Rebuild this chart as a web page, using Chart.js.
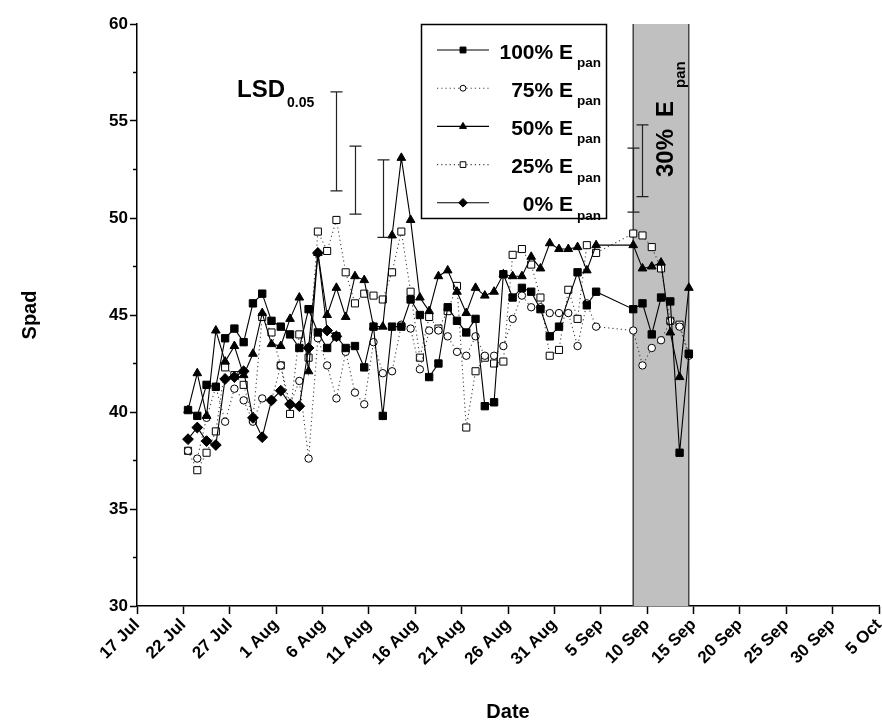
<!DOCTYPE html>
<html><head><meta charset="utf-8">
<script src="https://cdn.jsdelivr.net/npm/chart.js@4/dist/chart.umd.min.js"></script>
<style>html,body{margin:0;padding:0;background:#fff}#wrap{position:relative;width:882px;height:727px}</style>
</head><body><div id="wrap"><canvas id="c" width="882" height="727"></canvas></div>
<script>
// ---- data ----
const axisStart = '07-17';
const tickDates = ['07-17','07-22','07-27','08-01','08-06','08-11','08-16','08-21','08-26','08-31','09-05','09-10','09-15','09-20','09-25','09-30','10-05'];
const tickLabels = ['17 Jul','22 Jul','27 Jul','1 Aug','6 Aug','11 Aug','16 Aug','21 Aug','26 Aug','31 Aug','5 Sep','10 Sep','15 Sep','20 Sep','25 Sep','30 Sep','5 Oct'];
const yTicks = [30,35,40,45,50,55,60];
const dates = ['07-22','07-23','07-24','07-25','07-26','07-27','07-28','07-29','07-30','07-31',
 '08-01','08-02','08-03','08-04','08-05','08-06','08-07','08-08','08-09','08-10',
 '08-11','08-12','08-13','08-14','08-15','08-16','08-17','08-18','08-19','08-20',
 '08-21','08-22','08-23','08-24','08-25','08-26','08-27','08-28','08-29','08-30',
 '08-31','09-01','09-02','09-03','09-04',
 '09-08','09-09','09-10','09-11','09-12','09-13','09-14'];
const epan100 = [40.1,39.8,41.4,41.3,43.8,44.3,43.6,45.6,46.1,44.7,
 44.4,44.0,43.3,45.3,44.1,43.3,43.9,43.3,43.4,42.3,
 44.4,39.8,44.4,44.4,45.8,45.0,41.8,42.5,45.4,44.7,
 44.1,44.8,40.3,40.5,47.1,45.9,46.4,46.2,45.3,43.9,
 44.4,null,47.2,45.5,46.2,
 45.3,45.6,44.0,45.9,45.7,37.9,43.0];
const epan75 = [38.0,37.6,39.7,41.3,39.5,41.2,40.6,39.5,40.7,40.6,
 42.4,40.4,41.6,37.6,43.8,42.4,40.7,43.1,41.0,40.4,
 43.6,42.0,42.1,44.5,44.3,42.2,44.2,44.2,43.9,43.1,
 42.9,43.9,42.9,42.9,43.4,44.8,46.0,45.4,45.4,45.1,
 45.1,45.1,43.4,45.6,44.4,
 44.2,42.4,43.3,43.7,44.7,44.4,42.9];
const epan50 = [40.1,42.0,39.8,44.2,42.6,43.4,41.9,43.0,45.1,43.5,
 43.4,44.8,45.9,42.1,48.2,45.0,46.4,44.9,47.0,46.8,
 44.4,44.4,49.1,53.1,49.9,45.9,45.2,47.0,47.3,46.2,
 45.1,46.4,46.0,46.2,47.1,47.0,47.0,48.0,47.4,48.7,
 48.4,48.4,48.5,47.3,48.6,
 48.6,47.4,47.5,47.7,44.1,41.8,46.4];
const epan25 = [38.0,37.0,37.9,39.0,42.3,41.9,41.4,39.6,44.9,44.1,
 42.4,39.9,44.0,42.8,49.3,48.3,49.9,47.2,45.6,46.1,
 46.0,45.8,47.2,49.3,46.2,42.8,44.9,44.3,45.2,46.5,
 39.2,42.1,42.8,42.5,42.6,48.1,48.4,47.6,45.9,42.9,
 43.2,46.3,44.8,48.6,48.2,
 49.2,49.1,48.5,47.4,44.7,44.5,43.0];
const epan0Dates = ['07-22','07-23','07-24','07-25','07-26','07-27','07-28','07-29','07-30','07-31',
 '08-01','08-02','08-03','08-04','08-05','08-06','08-07'];
const epan0 = [38.6,39.2,38.5,38.3,41.7,41.8,42.1,39.7,38.7,40.6,
 41.1,40.4,40.3,43.3,48.2,44.2,43.9];
const lsdDates = ['08-07','08-09','08-12','09-08','09-09'];
const lsdLow = [51.4,50.2,49.0,50.3,51.1];
const lsdHigh = [56.5,53.7,53.0,53.6,54.8];
const bandDates = ['09-08','09-14'];
const seriesNames = ['100%','75%','50%','25%','0%'];

// ---- helpers ----
function dayOf(md){const [m,d]=md.split('-').map(Number);const [m0,d0]=axisStart.split('-').map(Number);return (Date.UTC(2000,m-1,d)-Date.UTC(2000,m0-1,d0))/86400000;}
const NOON = 0.5;
function pts(ds, vals){return ds.map((d,i)=>({x:dayOf(d)+NOON,y:vals[i]}));}
const FONT = "'Liberation Sans', Arial, sans-serif";
const PLOT_RIGHT = 879;

const styles = [
 {style:'rect', fill:'#000', dash:[], r:5.2},
 {style:'circle', fill:'#fff', dash:[1.2,3], r:3.7},
 {style:'triangle', fill:'#000', dash:[], r:5},
 {style:'rect', fill:'#fff', dash:[1.2,3], r:5},
 {style:'rectRot', fill:'#000', dash:[], r:5.4}
];
const allVals=[epan100,epan75,epan50,epan25,epan0];
const allDates=[dates,dates,dates,dates,epan0Dates];
const orders=[1,3,2,4,0];
const datasets = allVals.map((v,i)=>({
  label: seriesNames[i]+' Epan', data: pts(allDates[i], v), borderColor: i===1||i===3?'#444':'#000',
  borderWidth: 1.1, borderDash: styles[i].dash, pointStyle: styles[i].style, pointRadius: styles[i].r,
  pointBackgroundColor: styles[i].fill, pointBorderColor:'#000', pointBorderWidth:1, tension:0,
  spanGaps:true, order: orders[i], clip: false
}));

const overlay = {
  id:'overlay',
  afterLayout(chart){
    const x=chart.scales.x;
    x.right=PLOT_RIGHT; x.width=PLOT_RIGHT-x.left;
    chart.chartArea.right=PLOT_RIGHT; chart.chartArea.width=PLOT_RIGHT-chart.chartArea.left;
    x.configure();
  },
  beforeDatasetsDraw(chart){
    const {ctx, chartArea:a, scales:{x}} = chart;
    const x0 = x.getPixelForValue(dayOf(bandDates[0])+NOON), x1 = x.getPixelForValue(dayOf(bandDates[1])+NOON);
    ctx.save();
    ctx.fillStyle='#c0c0c0'; ctx.fillRect(x0,a.top,x1-x0,a.bottom-a.top);
    ctx.strokeStyle='#444'; ctx.lineWidth=1.5;
    ctx.beginPath(); ctx.moveTo(x0,a.top); ctx.lineTo(x0,a.bottom); ctx.stroke();
    ctx.strokeStyle='#000'; ctx.lineWidth=1;
    ctx.beginPath(); ctx.moveTo(x1,a.top); ctx.lineTo(x1,a.bottom); ctx.stroke();
    ctx.restore();
  },
  afterDraw(chart){
    const {ctx, chartArea:a, scales:{x,y}} = chart;
    ctx.save();
    // minor y ticks
    ctx.strokeStyle='#000'; ctx.lineWidth=1.5;
    for(let i=0;i<yTicks.length-1;i++){const v=(yTicks[i]+yTicks[i+1])/2;const py=y.getPixelForValue(v);
      ctx.beginPath();ctx.moveTo(a.left-4,py);ctx.lineTo(a.left,py);ctx.stroke();}
    // LSD bars
    ctx.strokeStyle='#222'; ctx.lineWidth=1.2;
    lsdDates.forEach((d,i)=>{const px=Math.round(x.getPixelForValue(dayOf(d)+NOON))+0.5;const t=y.getPixelForValue(lsdHigh[i]),b=y.getPixelForValue(lsdLow[i]);
      ctx.beginPath();ctx.moveTo(px,t);ctx.lineTo(px,b);ctx.moveTo(px-6,t);ctx.lineTo(px+6,t);ctx.moveTo(px-6,b);ctx.lineTo(px+6,b);ctx.stroke();});
    // LSD label
    ctx.fillStyle='#000'; ctx.textBaseline='alphabetic'; ctx.textAlign='left';
    ctx.font='bold 24px '+FONT; ctx.fillText('LSD',237,97);
    const w=ctx.measureText('LSD').width;
    ctx.font='bold 14px '+FONT; ctx.fillText('0.05',237+w+2,107);
    // 30% Epan rotated
    ctx.save(); ctx.translate(673,177); ctx.rotate(-Math.PI/2);
    ctx.font='bold 24px '+FONT; ctx.fillText('30%',0,0);
    ctx.fillText('E',60,0);
    ctx.font='bold 15px '+FONT; ctx.fillText('pan',89,12);
    ctx.restore();
    // legend
    const L=421.5,T=24.5,R=606.5,B=218.5;
    ctx.fillStyle='#fff'; ctx.fillRect(L,T,R-L,B-T);
    ctx.strokeStyle='#000'; ctx.lineWidth=1.5; ctx.strokeRect(L,T,R-L,B-T);
    for(let i=0;i<5;i++){
      const cy=50+38.2*i; const st=styles[i];
      ctx.save(); ctx.strokeStyle=(i===1||i===3)?'#444':'#000'; ctx.lineWidth=1.1; ctx.setLineDash(st.dash);
      ctx.beginPath(); ctx.moveTo(437,cy); ctx.lineTo(489,cy); ctx.stroke(); ctx.restore();
      ctx.save(); ctx.fillStyle=st.fill; ctx.strokeStyle='#000'; ctx.lineWidth=1;
      Chart.helpers.drawPoint(ctx,{pointStyle:st.style,radius:st.r*0.8,borderWidth:1},463,cy);
      ctx.restore();
      ctx.fillStyle='#000'; ctx.textAlign='right';
      ctx.font='bold 13.5px '+FONT; const pw=ctx.measureText('pan').width;
      ctx.fillText('pan',601,cy+17);
      ctx.font='bold 21px '+FONT; ctx.fillText(seriesNames[i]+' E',601-pw-4,cy+8.5);
    }
    ctx.restore();
  }
};

new Chart(document.getElementById('c'),{
  type:'line',
  data:{datasets},
  options:{
    responsive:false, animation:false, devicePixelRatio:1,
    layout:{padding:{top:24,right:1,bottom:0,left:0}},
    plugins:{legend:{display:false},tooltip:{enabled:false}},
    scales:{
      x:{type:'linear',min:dayOf(tickDates[0]),max:dayOf(tickDates[tickDates.length-1]),
        afterBuildTicks(s){s.ticks=tickDates.map(d=>({value:dayOf(d)}));},
        afterFit(s){s.height=121;s.paddingLeft=0;s.paddingRight=0;},
        ticks:{autoSkip:false,maxRotation:45,minRotation:45,color:'#000',font:{family:FONT,weight:'bold',size:17},padding:1,
          callback(v){const i=tickDates.findIndex(d=>dayOf(d)===v);return i>=0?tickLabels[i]:'';}},
        grid:{drawOnChartArea:false,drawTicks:true,tickLength:8,tickColor:'#000',tickWidth:1.5},
        border:{display:true,color:'#000',width:1.5},
        title:{display:true,text:'Date',color:'#000',font:{family:FONT,weight:'bold',size:20},padding:{top:0,bottom:3}}
      },
      y:{type:'linear',min:30,max:60,
        afterBuildTicks(s){s.ticks=yTicks.map(v=>({value:v}));},
        afterFit(s){s.width=137;},
        ticks:{color:'#000',font:{family:FONT,weight:'bold',size:17},padding:2},
        grid:{drawOnChartArea:false,drawTicks:true,tickLength:7,tickColor:'#000',tickWidth:1.5},
        border:{display:true,color:'#000',width:1.5},
        title:{display:true,text:'Spad',color:'#000',font:{family:FONT,weight:'bold',size:20},padding:{top:18,bottom:0}}
      }
    }
  },
  plugins:[overlay]
});
</script></body></html>
